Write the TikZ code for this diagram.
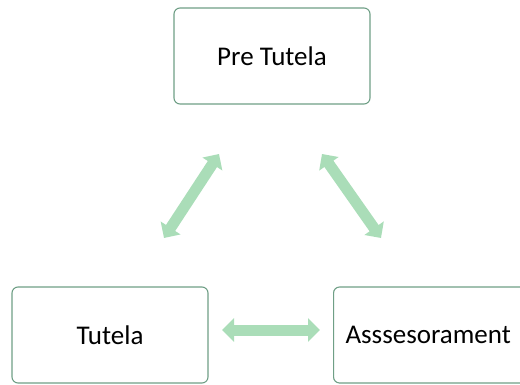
\documentclass[tikz,border=0pt]{standalone}
\usepackage{fontspec}
\setmainfont{Carlito}
\usetikzlibrary{arrows.meta}
\definecolor{boxline}{HTML}{6F9F86}
\definecolor{arrowfill}{HTML}{AADDB8}
\tikzset{
  box/.style={draw=boxline, line width=1.1pt, rounded corners=6pt, fill=white,
    minimum width=#1, minimum height=96pt, font=\fontsize{27}{32}\selectfont, inner sep=0pt},
  bigarrow/.style={draw=arrowfill, line width=11pt,
    {Triangle[width=23pt,length=12pt]}-{Triangle[width=23pt,length=12pt]}}
}
\begin{document}
\begin{tikzpicture}[x=1pt,y=-1pt]
\useasboundingbox (0,0) rectangle (520,385);
\node[box=196pt] (pre) at (272,56) {Pre Tutela};
\node[box=196pt] (tut) at (110,335) {Tutela};
\node[box=200pt, anchor=west, inner xsep=12pt, text width=176pt, align=left] (ass) at (333,335) {Asssesorament};
\coordinate (l1) at (219,154);
\coordinate (l2) at (164,238);
\coordinate (r1) at (322,154);
\coordinate (r2) at (381,238);
\coordinate (h1) at (222,330);
\coordinate (h2) at (320,330);
\draw[bigarrow] (l1) -- (l2);
\draw[bigarrow] (r1) -- (r2);
\draw[bigarrow] (h1) -- (h2);
\end{tikzpicture}
\end{document}
